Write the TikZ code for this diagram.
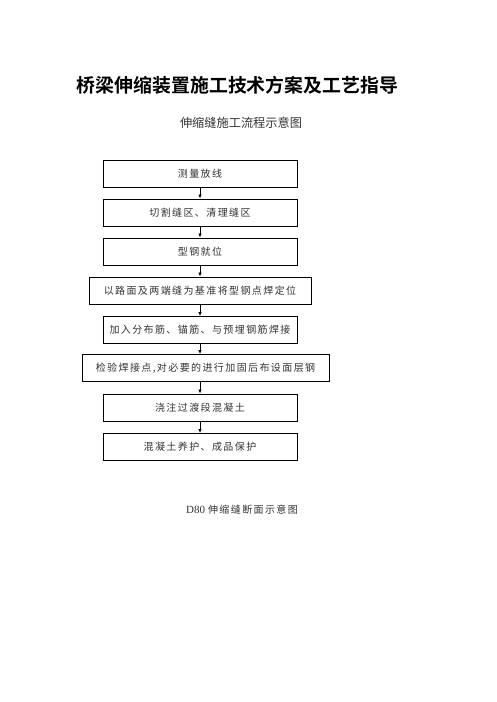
\documentclass[tikz,border=0pt]{standalone}
\usepackage{fontspec}
\setmainfont{Liberation Serif}
\newfontfamily\cjk{Noto Sans CJK SC}
\newfontfamily\cjkbold{Noto Sans CJK SC Bold}
\newfontfamily\cjksp[LetterSpace=14]{Noto Sans CJK SC}
\usetikzlibrary{arrows.meta}
\begin{document}
\begin{tikzpicture}[x=1pt,y=-1pt,
  stepbox/.style={draw=black, line width=0.9pt, minimum height=27pt, inner sep=0pt, font=\cjksp\fontsize{10}{12}\selectfont, text=black!80},
  flow/.style={draw=black, line width=0.9pt, -{Latex[length=4pt,width=3.5pt]}}]
\useasboundingbox (0,0) rectangle (496,702);
\fill[white] (0,0) rectangle (496,702);
\node[font=\cjkbold\fontsize{18.9}{20}\selectfont] (title) at (237.5,85) {桥梁伸缩装置施工技术方案及工艺指导};
\node[font=\cjk\fontsize{12.2}{14}\selectfont, text=black!80] (sub) at (241,123) {伸缩缝施工流程示意图};
\node[stepbox, minimum width=194pt] (b1) at (200,173.5) {测量放线};
\node[stepbox, minimum width=194pt] (b2) at (200,212.5) {切割缝区、清理缝区};
\node[stepbox, minimum width=194pt] (b3) at (200,251.5) {型钢就位};
\node[stepbox, minimum width=222pt] (b4) at (200,290.5) {以路面及两端缝为基准将型钢点焊定位};
\node[stepbox, minimum width=194pt] (b5) at (200,330) {加入分布筋、锚筋、与预埋钢筋焊接};
\node[stepbox, minimum width=247pt] (b6) at (205.5,368) {检验焊接点,对必要的进行加固后布设面层钢};
\node[stepbox, minimum width=194pt] (b7) at (200,407.5) {浇注过渡段混凝土};
\node[stepbox, minimum width=194pt] (b8) at (200,447) {混凝土养护、成品保护};
\draw[flow] (b1.south) -- (b2.north);
\draw[flow] (b2.south) -- (b3.north);
\draw[flow] (b3.south) -- (b4.north);
\draw[flow] (b4.south) -- (b5.north);
\draw[flow] (b5.south) -- (b6.north -| b5.south);
\draw[flow] (b6.south -| b7.north) -- (b7.north);
\draw[flow] (b7.south) -- (b8.north);
\node[text=black!80, inner sep=0pt] (d80) at (242,510) {{\fontsize{11}{12}\selectfont D80}\hspace{3pt}{\cjksp\fontsize{10}{12}\selectfont 伸缩缝断面示意图}};
\end{tikzpicture}
\end{document}
